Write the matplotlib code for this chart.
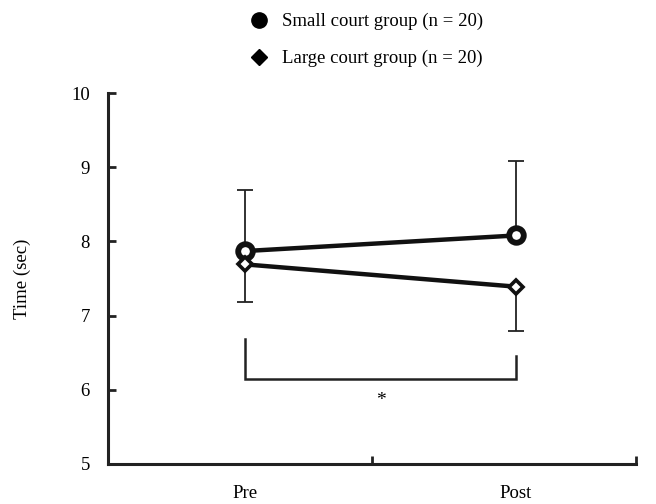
import matplotlib
matplotlib.use("Agg")
import matplotlib.pyplot as plt
from matplotlib.lines import Line2D

plt.rcParams['font.family'] = ['Liberation Serif', 'DejaVu Serif']

conditions = ["Pre", "Post"]
small_mean = [7.87, 8.08]
small_sd = [0.82, 1.00]
large_mean = [7.69, 7.39]
large_sd = [0.50, 0.60]
small_label = "Small court group (n = 20)"
large_label = "Large court group (n = 20)"
y_ticks = [5, 6, 7, 8, 9, 10]
bracket_left_top = 6.68
bracket_right_top = 6.46
bracket_level = 6.14
star_level = 5.86

x_pos = [0.52, 1.545]

fig = plt.figure(figsize=(6.56, 5.04), dpi=100)
ax = fig.add_axes([108/656, 1-464/504, 528/656, (464-93)/504])

# error bars (one-sided)
ax.errorbar(x_pos, small_mean, yerr=[[0, 0], small_sd], fmt='none',
            ecolor='#222222', elinewidth=1.3, capsize=6, capthick=1.3, zorder=2)
ax.errorbar(x_pos, large_mean, yerr=[large_sd, [0, 0]], fmt='none',
            ecolor='#222222', elinewidth=1.3, capsize=6, capthick=1.3, zorder=2)

ax.plot(x_pos, small_mean, color='#111111', lw=3.2, marker='o', ms=10.5,
        mfc='white', mec='#111111', mew=4.2, zorder=3)
ax.plot(x_pos, large_mean, color='#111111', lw=3.2, marker='D', ms=7.5,
        mfc='white', mec='#111111', mew=2.6, zorder=3)

# significance bracket
ax.plot([x_pos[0], x_pos[0], x_pos[1], x_pos[1]],
        [bracket_left_top, bracket_level, bracket_level, bracket_right_top],
        color='#222222', lw=1.8, solid_joinstyle='miter')
ax.text((x_pos[0] + x_pos[1]) / 2, star_level, "*", ha='center', va='center',
        fontsize=14)

ax.set_xlim(0, 2)
ax.set_ylim(5, 10)
ax.set_yticks(y_ticks)
ax.set_xticks([0, 1, 2])
ax.set_xticklabels([])
ax.set_xticks(x_pos, minor=True)
ax.set_xticklabels(conditions, minor=True)
ax.tick_params(axis='x', which='minor', length=0, pad=15, labelsize=13.5)
ax.tick_params(axis='x', which='major', direction='in', length=6, width=2, color='#222222')
ax.tick_params(axis='y', direction='in', length=6, width=2, color='#222222',
               labelsize=13.5, pad=13)
for s in ['top', 'right']:
    ax.spines[s].set_visible(False)
for s in ['left', 'bottom']:
    ax.spines[s].set_linewidth(2.2)
    ax.spines[s].set_color('#222222')
    ax.spines[s].set_capstyle('projecting')
ax.set_ylabel("Time (sec)", fontsize=13.5, labelpad=29)

handles = [Line2D([], [], ls='none', marker='o', ms=11, color='black'),
           Line2D([], [], ls='none', marker='D', ms=8, color='black')]
fig.legend(handles, [small_label, large_label], loc='upper left',
           bbox_to_anchor=(235/656, 1 - 0/504), frameon=False, fontsize=13.5,
           labelspacing=1.05, handletextpad=0.6, handlelength=1.2, borderpad=0.2)

fig.savefig("out.png", dpi=100)
